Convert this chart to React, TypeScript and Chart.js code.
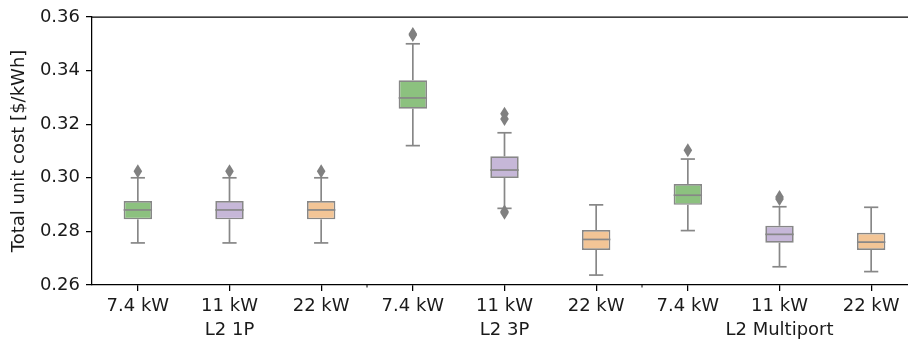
import React, { useEffect, useRef } from "react";
import { Chart, registerables } from "chart.js";

Chart.register(...registerables);

// ---- data ----
const powers = ["7.4 kW", "11 kW", "22 kW", "7.4 kW", "11 kW", "22 kW", "7.4 kW", "11 kW", "22 kW"];
const groups = ["L2 1P", "L2 3P", "L2 Multiport"];
const mins = [0.2757, 0.2757, 0.2757, 0.312, 0.2886, 0.2637, 0.2803, 0.2668, 0.265];
const q1s = [0.2845, 0.2845, 0.2845, 0.3258, 0.2999, 0.2731, 0.2899, 0.2758, 0.2731];
const medians = [0.288, 0.288, 0.288, 0.3298, 0.3029, 0.277, 0.2935, 0.2789, 0.276];
const q3s = [0.2913, 0.2913, 0.2913, 0.3364, 0.308, 0.2805, 0.2977, 0.2821, 0.2795];
const maxs = [0.3, 0.3, 0.3, 0.35, 0.3168, 0.2899, 0.307, 0.2892, 0.289];
const outliers: number[][] = [
  [0.3024],
  [0.3024],
  [0.3024],
  [0.3537, 0.3533],
  [0.3239, 0.3219, 0.2874, 0.287],
  [],
  [0.3103],
  [0.2928, 0.2921],
  [],
];
const yTicks = [0.26, 0.28, 0.3, 0.32, 0.34, 0.36];

// ---- styles ----
const palette = ["#8cc17f", "#c6b7d8", "#f3c596"];
const LINE = "#878787";
const TEXT = "#1a1a1a";
const FONT = "'DejaVu Sans', sans-serif";

const boxExtras = {
  id: "boxExtras",
  afterDatasetsDraw(chart: any) {
    const ctx = chart.ctx;
    const ys = chart.scales.y;
    const xs = chart.scales.x;
    const area = chart.chartArea;
    const meta = chart.getDatasetMeta(0);
    const line = (x1: number, y1: number, x2: number, y2: number) => {
      ctx.beginPath();
      ctx.moveTo(x1, y1);
      ctx.lineTo(x2, y2);
      ctx.stroke();
    };
    ctx.save();
    ctx.strokeStyle = LINE;
    ctx.lineWidth = 1.7;
    meta.data.forEach((bar: any, i: number) => {
      const cx = bar.x;
      const w = bar.width;
      const pMin = ys.getPixelForValue(mins[i]);
      const pQ1 = ys.getPixelForValue(q1s[i]);
      const pMed = ys.getPixelForValue(medians[i]);
      const pQ3 = ys.getPixelForValue(q3s[i]);
      const pMax = ys.getPixelForValue(maxs[i]);
      line(cx, pQ3, cx, pMax);
      line(cx, pQ1, cx, pMin);
      line(cx - w / 4, pMax, cx + w / 4, pMax);
      line(cx - w / 4, pMin, cx + w / 4, pMin);
      line(cx - w / 2, pMed, cx + w / 2, pMed);
      ctx.fillStyle = "#808080";
      outliers[i].forEach((v) => {
        const py = ys.getPixelForValue(v);
        ctx.beginPath();
        ctx.moveTo(cx, py - 7);
        ctx.lineTo(cx + 4.3, py);
        ctx.lineTo(cx, py + 7);
        ctx.lineTo(cx - 4.3, py);
        ctx.closePath();
        ctx.fill();
      });
    });
    // top spine
    ctx.strokeStyle = "#000";
    ctx.lineWidth = 1.25;
    line(area.left, area.top, area.right, area.top);
    // minor ticks at group boundaries
    for (let g = 1; g < groups.length; g++) {
      const bx = (xs.getPixelForValue(g * 3 - 1) + xs.getPixelForValue(g * 3)) / 2;
      ctx.lineWidth = 1;
      line(bx, area.bottom, bx, area.bottom + 2.5);
    }
    ctx.restore();
  },
};

export default function App() {
  const ref = useRef<HTMLCanvasElement | null>(null);
  useEffect(() => {
    if (!ref.current) return;
    const labels = powers.map((p, i) => (i % 3 === 1 ? [p, groups[(i - 1) / 3]] : p));
    const chart = new Chart(ref.current, {
      type: "bar",
      data: {
        labels,
        datasets: [
          {
            data: q1s.map((q, i) => [q, q3s[i]]) as any,
            backgroundColor: powers.map((_, i) => palette[i % 3]),
            borderColor: LINE,
            borderWidth: 1.7,
            borderSkipped: false,
            categoryPercentage: 1,
            barPercentage: 0.31,
          },
        ],
      },
      options: {
        animation: false,
        responsive: false,
        devicePixelRatio: 1,
        layout: { padding: { left: 0, top: 17, right: 23, bottom: 0 } },
        plugins: { legend: { display: false }, tooltip: { enabled: false } },
        scales: {
          x: {
            type: "category",
            offset: true,
            grid: { display: true, offset: false, drawOnChartArea: false, color: "#000", lineWidth: 1.25, tickLength: 6 },
            border: { display: true, color: "#000", width: 1.25 },
            ticks: {
              color: TEXT,
              font: { family: FONT, size: 18, lineHeight: 1.35 },
              padding: 3,
              maxRotation: 0,
              autoSkip: false,
            },
            afterFit: (s: any) => {
              s.height = 59;
            },
          },
          y: {
            min: yTicks[0],
            max: yTicks[yTicks.length - 1],
            afterBuildTicks: (s: any) => {
              s.ticks = yTicks.map((v) => ({ value: v }));
            },
            grid: { display: true, drawOnChartArea: false, color: "#000", lineWidth: 1.25, tickLength: 6 },
            border: { display: true, color: "#000", width: 1.25 },
            ticks: {
              color: TEXT,
              font: { family: FONT, size: 18 },
              padding: 6,
              callback: (v: any) => Number(v).toFixed(2),
            },
            title: {
              display: true,
              text: "Total unit cost [$/kWh]",
              color: TEXT,
              font: { family: FONT, size: 18 },
              padding: { top: 9, bottom: 0 },
            },
            afterFit: (s: any) => {
              s.width = 92;
            },
          },
        },
      },
      plugins: [boxExtras],
    });
    return () => chart.destroy();
  }, []);
  return (
    <div style={{ position: "absolute", left: 0, top: 0, width: 908, height: 344, overflow: "hidden", background: "#fff" }}>
      <canvas ref={ref} width={940} height={344} style={{ width: 940, height: 344, display: "block" }} />
    </div>
  );
}
